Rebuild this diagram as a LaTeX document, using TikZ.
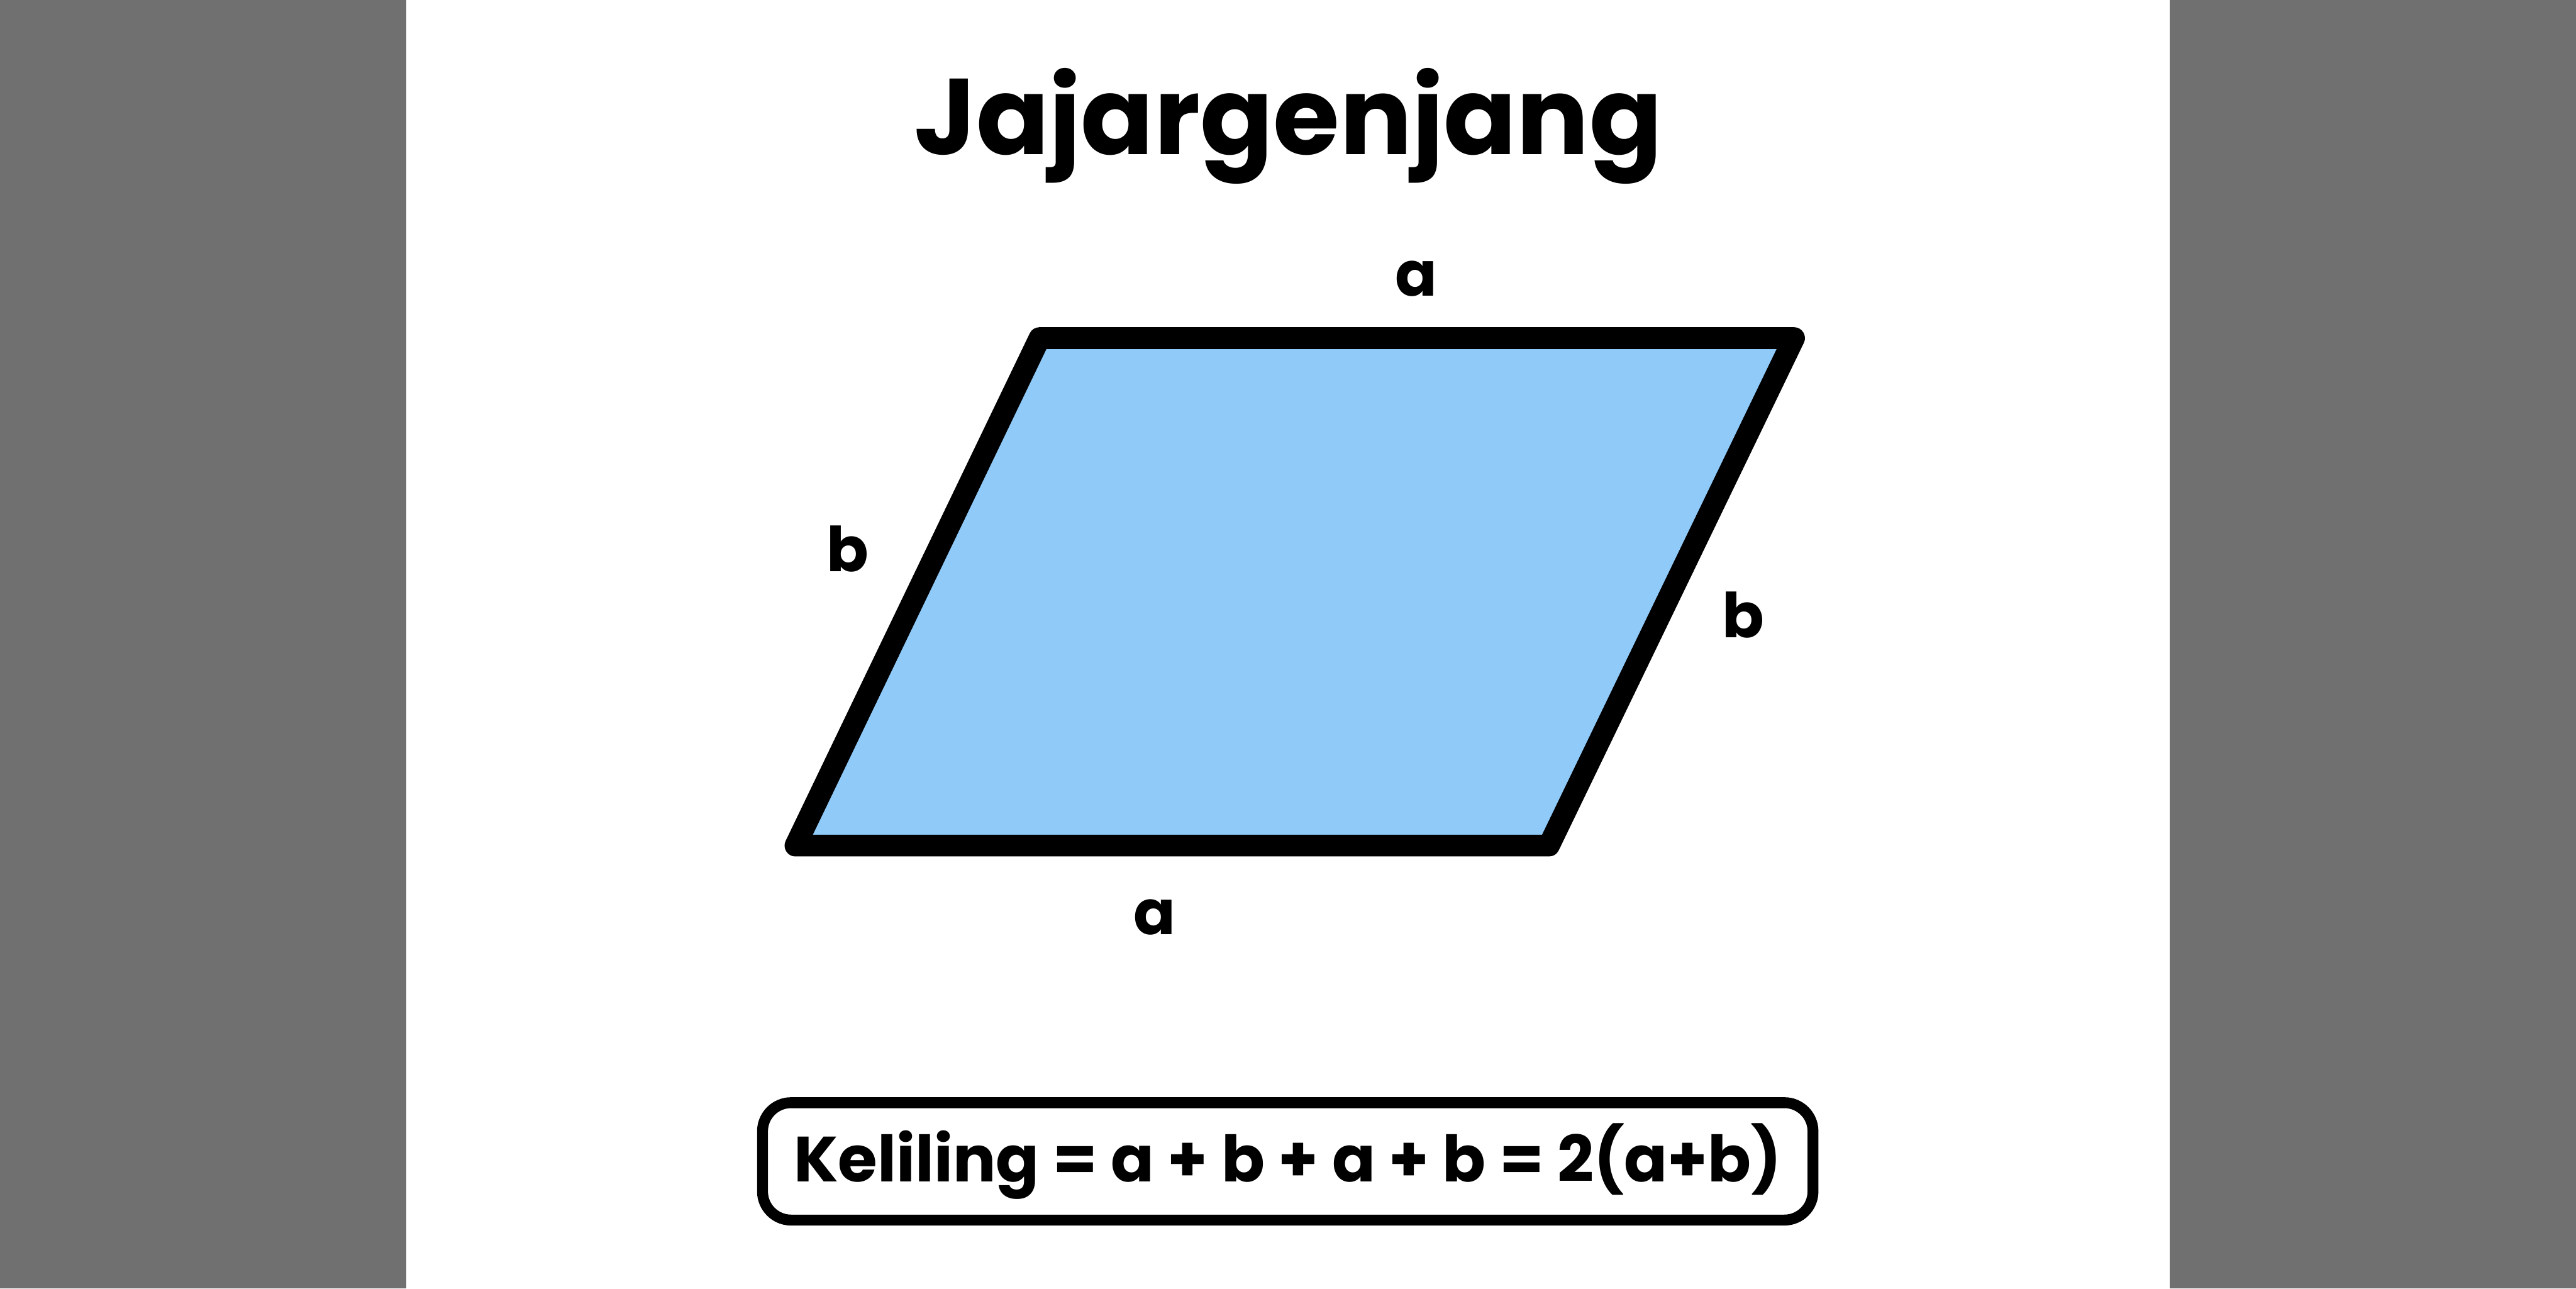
\documentclass[tikz,border=0pt]{standalone}
\usepackage{fontspec}
\setmainfont{Poppins}
\usetikzlibrary{positioning}

\definecolor{sidegray}{HTML}{707070}
\definecolor{shapeblue}{HTML}{90CAF9}

\begin{document}
\begin{tikzpicture}[every node/.style={font=\fontsize{33.9}{40}\selectfont\bfseries, text=black},
  sidelabel/.style={inner sep=0pt},
  formulabox/.style={draw, line width=0.21cm, rounded corners=0.55cm, fill=white,
    minimum width=20.23cm, minimum height=2.26cm, inner sep=0pt}]

% canvas with grey side bands
\useasboundingbox (0,0) rectangle (49.61,24.81);
\fill[white] (0,0) rectangle (49.61,24.81);
\fill[sidegray] (0,0) rectangle (7.82,24.81);
\fill[sidegray] (41.79,0) rectangle (49.61,24.81);

% title
\node[anchor=base, font=\fontsize{59}{66}\selectfont\bfseries] (title) at (24.81,21.84) {Jajargenjang};

% parallelogram corners
\coordinate (bl) at (15.32,8.53);
\coordinate (br) at (29.83,8.53);
\coordinate (tr) at (34.55,18.30);
\coordinate (tl) at (20.02,18.30);
\filldraw[fill=shapeblue, draw=black, line width=0.42cm, line join=round]
  (bl) -- (br) -- (tr) -- (tl) -- cycle;

% side labels
\node[sidelabel] (atop) at (27.27,19.44) {a};
\node[sidelabel] (abot) at (22.24,7.15) {a};
\node[sidelabel] (bleft) at (16.32,14.24) {b};
\node[sidelabel] (bright) at (33.57,12.97) {b};

% perimeter formula
\node[formulabox, font=\fontsize{35}{42}\selectfont\bfseries] (keliling) at (24.80,2.45) {Keliling = a + b + a + b = 2(a+b)};

\end{tikzpicture}
\end{document}
